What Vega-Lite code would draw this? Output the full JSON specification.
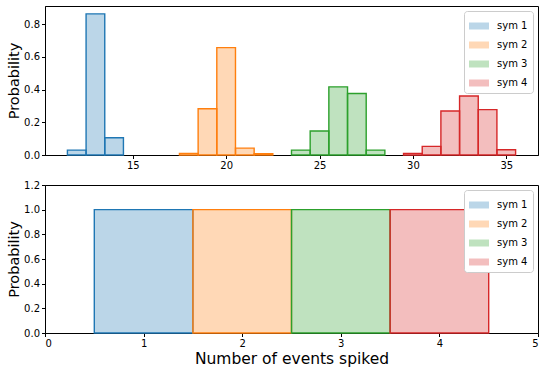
{
  "$schema": "https://vega.github.io/schema/vega-lite/v6.json",
  "padding": {"left": 6, "top": 5, "right": 5, "bottom": 5},
  "background": "white",
  "spacing": 8,
  "config": {
    "view": {"stroke": "black", "strokeWidth": 1},
    "font": "DejaVu Sans",
    "axis": {
      "grid": false,
      "domainColor": "black",
      "tickColor": "black",
      "labelColor": "black",
      "titleColor": "black",
      "labelFont": "DejaVu Sans",
      "titleFont": "DejaVu Sans",
      "labelFontSize": 10,
      "titleFontSize": 14.5,
      "titleFontWeight": "normal",
      "tickSize": 3.5,
      "labelPadding": 2
    },
    "legend": {
      "labelFont": "DejaVu Sans",
      "labelFontSize": 10,
      "labelColor": "black",
      "fillColor": "white",
      "strokeColor": "#cccccc",
      "cornerRadius": 3,
      "padding": 5,
      "rowPadding": 4,
      "symbolType": "M-1,-0.35L1,-0.35L1,0.35L-1,0.35Z",
      "symbolSize": 400,
      "symbolOpacity": 0.3,
      "symbolStrokeWidth": 0,
      "labelOffset": 8
    }
  },
  "datasets": {
    "top": [
      {"sym": "sym 1", "x0": 11.5, "x1": 12.5, "p": 0.03},
      {"sym": "sym 1", "x0": 12.5, "x1": 13.5, "p": 0.864},
      {"sym": "sym 1", "x0": 13.5, "x1": 14.5, "p": 0.106},
      {"sym": "sym 2", "x0": 17.5, "x1": 18.5, "p": 0.01},
      {"sym": "sym 2", "x0": 18.5, "x1": 19.5, "p": 0.283},
      {"sym": "sym 2", "x0": 19.5, "x1": 20.5, "p": 0.657},
      {"sym": "sym 2", "x0": 20.5, "x1": 21.5, "p": 0.042},
      {"sym": "sym 2", "x0": 21.5, "x1": 22.5, "p": 0.008},
      {"sym": "sym 3", "x0": 23.5, "x1": 24.5, "p": 0.03},
      {"sym": "sym 3", "x0": 24.5, "x1": 25.5, "p": 0.147},
      {"sym": "sym 3", "x0": 25.5, "x1": 26.5, "p": 0.417},
      {"sym": "sym 3", "x0": 26.5, "x1": 27.5, "p": 0.376},
      {"sym": "sym 3", "x0": 27.5, "x1": 28.5, "p": 0.03},
      {"sym": "sym 4", "x0": 29.5, "x1": 30.5, "p": 0.01},
      {"sym": "sym 4", "x0": 30.5, "x1": 31.5, "p": 0.053},
      {"sym": "sym 4", "x0": 31.5, "x1": 32.5, "p": 0.269},
      {"sym": "sym 4", "x0": 32.5, "x1": 33.5, "p": 0.361},
      {"sym": "sym 4", "x0": 33.5, "x1": 34.5, "p": 0.278},
      {"sym": "sym 4", "x0": 34.5, "x1": 35.5, "p": 0.032}
    ],
    "bottom": [
      {"sym": "sym 1", "x0": 0.5, "x1": 1.5, "p": 1.0},
      {"sym": "sym 2", "x0": 1.5, "x1": 2.5, "p": 1.0},
      {"sym": "sym 3", "x0": 2.5, "x1": 3.5, "p": 1.0},
      {"sym": "sym 4", "x0": 3.5, "x1": 4.5, "p": 1.0}
    ]
  },
  "vconcat": [
    {
      "width": 493,
      "height": 149,
      "data": {"name": "top"},
      "mark": {"type": "bar", "fillOpacity": 0.3, "strokeWidth": 1.4, "strokeOpacity": 1},
      "encoding": {
        "x": {"field": "x0", "type": "quantitative", "scale": {"domain": [10.3, 36.7], "nice": false, "zero": false},
              "axis": {"values": [15, 20, 25, 30, 35], "title": null}},
        "x2": {"field": "x1"},
        "y": {"field": "p", "type": "quantitative", "scale": {"domain": [0, 0.912], "nice": false},
              "axis": {"values": [0, 0.2, 0.4, 0.6, 0.8], "format": ".1f", "title": "Probability", "titlePadding": 2}},
        "y2": {"datum": 0},
        "color": {"field": "sym", "type": "nominal",
                  "scale": {"domain": ["sym 1", "sym 2", "sym 3", "sym 4"], "range": ["#1f77b4", "#ff7f0e", "#2ca02c", "#d62728"]},
                  "legend": {"title": null, "orient": "top-right", "offset": 5}},
        "stroke": {"field": "sym", "type": "nominal",
                  "scale": {"domain": ["sym 1", "sym 2", "sym 3", "sym 4"], "range": ["#1f77b4", "#ff7f0e", "#2ca02c", "#d62728"]},
                  "legend": null}
      }
    },
    {
      "width": 493,
      "height": 148,
      "data": {"name": "bottom"},
      "mark": {"type": "bar", "fillOpacity": 0.3, "strokeWidth": 1.4, "strokeOpacity": 1},
      "encoding": {
        "x": {"field": "x0", "type": "quantitative", "scale": {"domain": [0, 5], "nice": false, "zero": false},
              "axis": {"values": [0, 1, 2, 3, 4, 5], "title": "Number of events spiked", "titlePadding": 3, "titleFontSize": 15.5}},
        "x2": {"field": "x1"},
        "y": {"field": "p", "type": "quantitative", "scale": {"domain": [0, 1.2], "nice": false},
              "axis": {"values": [0, 0.2, 0.4, 0.6, 0.8, 1.0, 1.2], "format": ".1f", "title": "Probability", "titlePadding": 2}},
        "y2": {"datum": 0},
        "color": {"field": "sym", "type": "nominal",
                  "scale": {"domain": ["sym 1", "sym 2", "sym 3", "sym 4"], "range": ["#1f77b4", "#ff7f0e", "#2ca02c", "#d62728"]},
                  "legend": {"title": null, "orient": "top-right", "offset": 5}},
        "stroke": {"field": "sym", "type": "nominal",
                  "scale": {"domain": ["sym 1", "sym 2", "sym 3", "sym 4"], "range": ["#1f77b4", "#ff7f0e", "#2ca02c", "#d62728"]},
                  "legend": null}
      }
    }
  ],
  "resolve": {"scale": {"color": "independent", "stroke": "independent"}, "legend": {"color": "independent"}}
}
